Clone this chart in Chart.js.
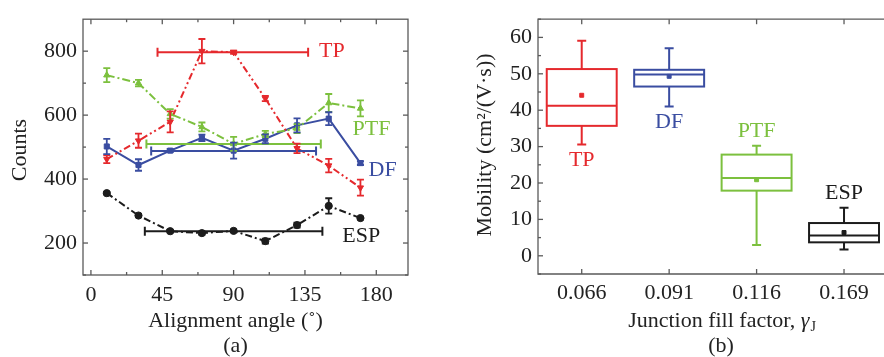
<!DOCTYPE html>
<html>
<head>
<meta charset="utf-8">
<script src="https://cdn.jsdelivr.net/npm/chart.js@4"></script>
<style>
  html, body { margin: 0; padding: 0; background: #fff; overflow: hidden; }
  #wrap { position: relative; width: 884px; height: 357px; }
  canvas { position: absolute; top: 0; }
  #chartA { left: 0; }
  #chartB { left: 442px; }
</style>
</head>
<body>
<div id="wrap">
  <canvas id="chartA" width="442" height="357"></canvas>
  <canvas id="chartB" width="442" height="357"></canvas>
</div>
<script>
// ---- panel (a): counts vs alignment angle
const angles = [10, 30, 50, 70, 90, 110, 130, 150, 170];
const countsTP  = [462, 520, 579, 800, 797, 652, 496, 442, 373];
const errTP     = [12, 22, 33, 38, 5, 8, 15, 21, 25];
const countsPTF = [725, 700, 604, 563, 510, 541, 558, 638, 621];
const errPTF    = [22, 10, 15, 14, 22, 10, 14, 28, 25];
const countsDF  = [502, 444, 489, 529, 489, 526, 568, 589, 450];
const errDF     = [24, 18, 5, 10, 25, 14, 22, 20, 6];
const countsESP = [356, 286, 237, 231, 238, 206, 256, 316, 278];
const errESP    = [4, 4, 4, 5, 4, 8, 8, 24, 4];
// horizontal spans (angle from, angle to) and their count level
const spanTP  = [42, 137];  const levelTP  = 797;
const spanPTF = [35, 145];  const levelPTF = 510;
const spanDF  = [38, 142];  const levelDF  = 488;
const spanESP = [34, 146];  const levelESP = 237;
const angleTicks = [0, 45, 90, 135, 180];
const angleMinor = [22.5, 67.5, 112.5, 157.5];
const countTicks = [200, 400, 600, 800];
const countMinor = [100, 300, 500, 700];

// ---- panel (b): mobility box plots
const fillFactors = ['0.066', '0.091', '0.116', '0.169'];
const mobMin  = [30.6, 41.0, 3.0, 1.7];
const mobQ1   = [35.7, 46.5, 17.9, 3.7];
const mobMed  = [41.2, 49.8, 21.4, 5.6];
const mobQ3   = [51.3, 51.1, 27.8, 9.0];
const mobMax  = [59.1, 57.0, 30.2, 13.2];
const mobMean = [44.1, 49.3, 20.9, 6.4];
const mobTicks = [0, 10, 20, 30, 40, 50, 60];
const mobMinor = [-5, 5, 15, 25, 35, 45, 55, 65];

const RED = '#e5292d', GREEN = '#7cc03e', BLUE = '#3a4da1', BLACK = '#1c1c1c';
const FRAME = '#5a5a5a';
const SERIF = "'Liberation Serif', 'Times New Roman', serif";

function pts(xs, ys) {
    return xs.map((x, i) => ({x: x, y: ys[i]}));
}

function span(s, level) {
    return [{x: s[0], y: level}, {x: s[1], y: level}];
}

function tickMarks(ctx, scale, values, len, side, area) {
    values.forEach(v => {
        const p = scale.getPixelForValue(v);
        ctx.beginPath();
        if (side === 'bottom') { ctx.moveTo(p, area.bottom); ctx.lineTo(p, area.bottom - len); }
        if (side === 'top') { ctx.moveTo(p, area.top); ctx.lineTo(p, area.top + len); }
        if (side === 'left') { ctx.moveTo(area.left, p); ctx.lineTo(area.left + len, p); }
        if (side === 'right') { ctx.moveTo(area.right, p); ctx.lineTo(area.right - len, p); }
        ctx.stroke();
    });
}

function label(ctx, text, x, y, color) {
    ctx.save();
    ctx.fillStyle = color;
    ctx.font = '22px ' + SERIF;
    ctx.textAlign = 'center';
    ctx.textBaseline = 'middle';
    ctx.fillText(text, x, y);
    ctx.restore();
}

const panelA = {
    id: 'panelA',
    afterDatasetsDraw(chart) {
        const ctx = chart.ctx;
        const ys = chart.scales.y;
        chart.data.datasets.forEach((ds, i) => {
            if (!ds.errors) return;
            const meta = chart.getDatasetMeta(i);
            ctx.save();
            ctx.strokeStyle = ds.borderColor;
            ctx.lineWidth = 1.8;
            meta.data.forEach((el, j) => {
                const v = ds.data[j].y, e = ds.errors[j];
                const top = ys.getPixelForValue(v + e), bot = ys.getPixelForValue(v - e);
                ctx.beginPath();
                ctx.moveTo(el.x, top); ctx.lineTo(el.x, bot);
                ctx.moveTo(el.x - 3.5, top); ctx.lineTo(el.x + 3.5, top);
                ctx.moveTo(el.x - 3.5, bot); ctx.lineTo(el.x + 3.5, bot);
                ctx.stroke();
            });
            ctx.restore();
        });
    },
    afterDraw(chart) {
        const {ctx, chartArea: a, scales: {x, y}} = chart;
        ctx.save();
        ctx.strokeStyle = FRAME;
        ctx.lineWidth = 1.3;
        ctx.strokeRect(a.left, a.top, a.right - a.left, a.bottom - a.top);
        ['bottom', 'top'].forEach(s => {
            tickMarks(ctx, x, angleTicks, 5, s, a);
            tickMarks(ctx, x, angleMinor, 3, s, a);
        });
        ['left', 'right'].forEach(s => {
            tickMarks(ctx, y, countTicks, 5, s, a);
            tickMarks(ctx, y, countMinor, 3, s, a);
        });
        ctx.restore();

        label(ctx, 'TP', x.getPixelForValue(152), y.getPixelForValue(800), RED);
        label(ctx, 'PTF', x.getPixelForValue(177), y.getPixelForValue(557), GREEN);
        label(ctx, 'DF', x.getPixelForValue(184), y.getPixelForValue(428), BLUE);
        label(ctx, 'ESP', x.getPixelForValue(170.5), y.getPixelForValue(222), BLACK);

        ctx.save();
        ctx.fillStyle = '#222';
        ctx.font = '22px ' + SERIF;
        ctx.textAlign = 'center';
        ctx.textBaseline = 'middle';
        ctx.fillText('Alignment angle (\u02DA)', (a.left + a.right) / 2 - 10, 321);
        ctx.fillText('(a)', (a.left + a.right) / 2 - 10, 346);
        ctx.translate(20, 150);
        ctx.rotate(-Math.PI / 2);
        ctx.fillText('Counts', 0, 0);
        ctx.restore();
    }
};

function lineSet(data, color, dash, style, rot, errors) {
    return {
        data: data,
        errors: errors,
        borderColor: color,
        backgroundColor: color,
        borderWidth: 2,
        borderDash: dash,
        pointStyle: style,
        rotation: rot,
        pointRadius: 3.6,
        pointBorderWidth: 1,
        tension: 0
    };
}

function spanSet(data, color) {
    return {
        data: data,
        borderColor: color,
        backgroundColor: color,
        borderWidth: 2,
        pointStyle: 'line',
        rotation: 90,
        pointRadius: 4.5,
        pointBorderWidth: 2
    };
}

new Chart(document.getElementById('chartA'), {
    type: 'line',
    data: {
        datasets: [
            spanSet(span(spanTP, levelTP), RED),
            spanSet(span(spanPTF, levelPTF), GREEN),
            spanSet(span(spanDF, levelDF), BLUE),
            spanSet(span(spanESP, levelESP), BLACK),
            lineSet(pts(angles, countsESP), BLACK, [7, 3, 2, 3], 'circle', 0, errESP),
            lineSet(pts(angles, countsPTF), GREEN, [8, 3, 2, 3], 'triangle', 0, errPTF),
            lineSet(pts(angles, countsTP), RED, [7, 3, 2, 3, 2, 3], 'triangle', 180, errTP),
            lineSet(pts(angles, countsDF), BLUE, [], 'rect', 0, errDF)
        ]
    },
    options: {
        responsive: false,
        animation: false,
        layout: {padding: {top: 13, right: 34, left: 0, bottom: 0}},
        plugins: {legend: {display: false}, tooltip: {enabled: false}},
        scales: {
            x: {
                type: 'linear', min: -5, max: 200,
                afterBuildTicks: s => { s.ticks = angleTicks.map(v => ({value: v})); },
                afterFit: s => { s.height = 82; },
                grid: {display: false, drawTicks: false},
                border: {display: false},
                ticks: {color: '#222', padding: 7, maxRotation: 0, font: {family: SERIF, size: 22}}
            },
            y: {
                type: 'linear', min: 100, max: 900,
                afterBuildTicks: s => { s.ticks = countTicks.map(v => ({value: v})); },
                afterFit: s => { s.width = 83; },
                grid: {display: false, drawTicks: false},
                border: {display: false},
                ticks: {color: '#222', padding: 6, font: {family: SERIF, size: 22}}
            }
        }
    },
    plugins: [panelA]
});

const boxColors = [RED, BLUE, GREEN, BLACK];

const panelB = {
    id: 'panelB',
    beforeDatasetsDraw(chart) {
        const {ctx, scales: {x, y}} = chart;
        ctx.save();
        ctx.lineWidth = 2;
        fillFactors.forEach((f, i) => {
            const xc = x.getPixelForValue(i);
            const xl = x.getPixelForValue(i - 0.4), xr = x.getPixelForValue(i + 0.4);
            const q1 = y.getPixelForValue(mobQ1[i]), q3 = y.getPixelForValue(mobQ3[i]);
            const md = y.getPixelForValue(mobMed[i]);
            const lo = y.getPixelForValue(mobMin[i]), hi = y.getPixelForValue(mobMax[i]);
            ctx.strokeStyle = boxColors[i];
            ctx.strokeRect(xl, q3, xr - xl, q1 - q3);
            ctx.beginPath();
            ctx.moveTo(xl, md); ctx.lineTo(xr, md);
            ctx.moveTo(xc, q3); ctx.lineTo(xc, hi);
            ctx.moveTo(xc - 4.5, hi); ctx.lineTo(xc + 4.5, hi);
            ctx.moveTo(xc, q1); ctx.lineTo(xc, lo);
            ctx.moveTo(xc - 4.5, lo); ctx.lineTo(xc + 4.5, lo);
            ctx.stroke();
        });
        ctx.restore();
    },
    afterDraw(chart) {
        const {ctx, chartArea: a, scales: {x, y}} = chart;
        ctx.save();
        ctx.strokeStyle = FRAME;
        ctx.lineWidth = 1.3;
        ctx.beginPath();
        ctx.moveTo(chart.width, a.top);
        ctx.lineTo(a.left, a.top);
        ctx.lineTo(a.left, a.bottom);
        ctx.lineTo(chart.width, a.bottom);
        ctx.stroke();
        const cats = fillFactors.map((f, i) => i);
        tickMarks(ctx, x, cats, 5, 'bottom', a);
        tickMarks(ctx, x, cats, 5, 'top', a);
        tickMarks(ctx, y, mobTicks, 5, 'left', a);
        tickMarks(ctx, y, mobMinor, 3, 'left', a);
        ctx.restore();

        label(ctx, 'TP', x.getPixelForValue(0), y.getPixelForValue(26.3), RED);
        label(ctx, 'DF', x.getPixelForValue(1), y.getPixelForValue(36.6), BLUE);
        label(ctx, 'PTF', x.getPixelForValue(2), y.getPixelForValue(34.3), GREEN);
        label(ctx, 'ESP', x.getPixelForValue(3), y.getPixelForValue(17.1), BLACK);

        ctx.save();
        ctx.fillStyle = '#222';
        ctx.textBaseline = 'middle';
        // x title with italic gamma and subscript J
        const main = 'Junction fill factor, ';
        ctx.font = '22px ' + SERIF;
        const w1 = ctx.measureText(main).width;
        ctx.font = 'italic 22px ' + SERIF;
        const w2 = ctx.measureText('\u03B3').width;
        ctx.font = '14px ' + SERIF;
        const w3 = ctx.measureText('J').width;
        let tx = 280 - (w1 + w2 + w3 + 1) / 2;
        ctx.textAlign = 'left';
        ctx.font = '22px ' + SERIF;
        ctx.fillText(main, tx, 321);
        ctx.font = 'italic 22px ' + SERIF;
        ctx.fillText('\u03B3', tx + w1, 321);
        ctx.font = '14px ' + SERIF;
        ctx.fillText('J', tx + w1 + w2 + 1, 327);
        ctx.textAlign = 'center';
        ctx.font = '22px ' + SERIF;
        ctx.fillText('(b)', 279, 346);
        ctx.translate(43, 145);
        ctx.rotate(-Math.PI / 2);
        ctx.fillText('Mobility (cm\u00B2/(V\u00B7s))', 0, 0);
        ctx.restore();
    }
};

new Chart(document.getElementById('chartB'), {
    type: 'scatter',
    data: {
        datasets: [{
            data: pts(fillFactors.map((f, i) => i), mobMean),
            backgroundColor: boxColors,
            borderColor: boxColors,
            pointStyle: 'rect',
            pointRadius: 2.8,
            pointBorderWidth: 1
        }]
    },
    options: {
        responsive: false,
        animation: false,
        layout: {padding: {top: 13, right: 0, left: 0, bottom: 0}},
        plugins: {legend: {display: false}, tooltip: {enabled: false}},
        scales: {
            x: {
                type: 'linear', min: -0.5, max: 3.4,
                afterBuildTicks: s => { s.ticks = fillFactors.map((f, i) => ({value: i})); },
                afterFit: s => { s.height = 83; },
                grid: {display: false, drawTicks: false},
                border: {display: false},
                ticks: {
                    color: '#222', padding: 6, maxRotation: 0, autoSkip: false,
                    font: {family: SERIF, size: 22},
                    callback: v => fillFactors[v]
                }
            },
            y: {
                type: 'linear', min: -5, max: 65,
                afterBuildTicks: s => { s.ticks = mobTicks.map(v => ({value: v})); },
                afterFit: s => { s.width = 96; },
                grid: {display: false, drawTicks: false},
                border: {display: false},
                ticks: {color: '#222', padding: 6, font: {family: SERIF, size: 22}}
            }
        }
    },
    plugins: [panelB]
});
</script>
</body>
</html>
